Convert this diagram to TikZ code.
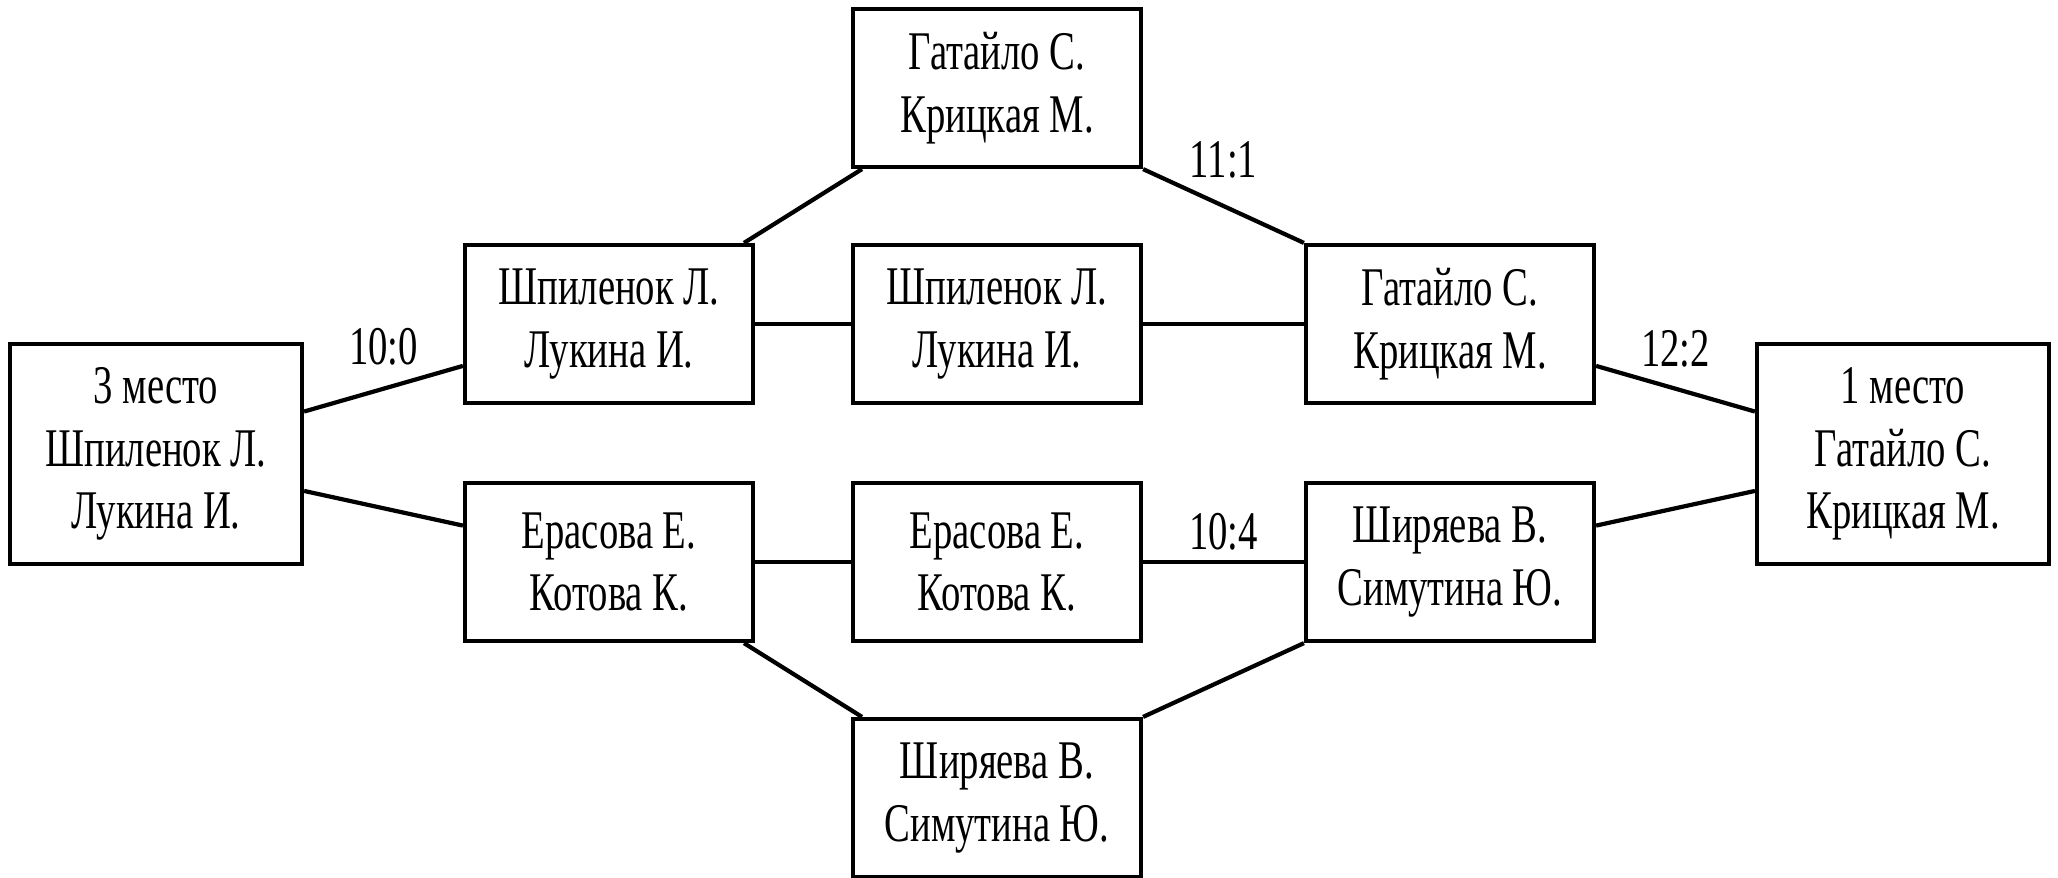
\documentclass[tikz,border=0pt]{standalone}
\usepackage{fontspec}
\setmainfont[FakeStretch=0.71]{Liberation Serif}

\begin{document}
\begin{tikzpicture}[
    player/.style={draw, line width=1.2pt, minimum width=2.88cm, minimum height=1.58cm,
        inner sep=0pt, align=center, font=\fontsize{15.5}{17.8}\selectfont},
    place/.style={player, minimum width=2.92cm, minimum height=2.2cm},
    score/.style={midway, yshift=4.2mm, font=\fontsize{15.5}{17.8}\selectfont},
    link/.style={line width=1.2pt}
]
        % Page frame
        \useasboundingbox (0,0) rectangle (20.58,-8.77);

        % Final places
        \node[place] (third) at (1.56,-4.54) {3 место\\Шпиленок Л.\\Лукина И.};
        \node[place] (first) at (19.03,-4.54) {1 место\\Гатайло С.\\Крицкая М.};

        % Second column
        \node[player] (s1) at (6.09,-3.24) {Шпиленок Л.\\Лукина И.};
        \node[player] (e1) at (6.09,-5.62) {Ерасова Е.\\Котова К.};

        % Middle column
        \node[player] (g0) at (9.97,-0.88) {Гатайло С.\\Крицкая М.};
        \node[player] (s2) at (9.97,-3.24) {Шпиленок Л.\\Лукина И.};
        \node[player] (e2) at (9.97,-5.62) {Ерасова Е.\\Котова К.};
        \node[player] (sh0) at (9.97,-7.98) {Ширяева В.\\Симутина Ю.};

        % Fourth column
        \node[player] (g1) at (14.50,-3.24) {Гатайло С.\\Крицкая М.};
        \node[player] (sh1) at (14.50,-5.62) {Ширяева В.\\Симутина Ю.};

        % Left half
        \draw[link] (third.16) -- node[score] {10:0} (s1.196);
        \draw[link] (third.-14) -- (e1.166);
        \draw[link] (s1.31) -- (g0.211);
        \draw[link] (s1.east) -- (s2.west);
        \draw[link] (e1.east) -- (e2.west);
        \draw[link] (e1.-31) -- (sh0.149);

        % Right half
        \draw[link] (g0.south east) -- node[score, yshift=0.4mm] {11:1} (g1.north west);
        \draw[link] (s2.east) -- (g1.west);
        \draw[link] (e2.east) -- node[score, yshift=-1.2mm] {10:4} (sh1.west);
        \draw[link] (sh0.north east) -- (sh1.south west);
        \draw[link] (g1.-16) -- node[score, yshift=-0.2mm] {12:2} (first.164);
        \draw[link] (sh1.14) -- (first.194);

    \end{tikzpicture}
\end{document}
